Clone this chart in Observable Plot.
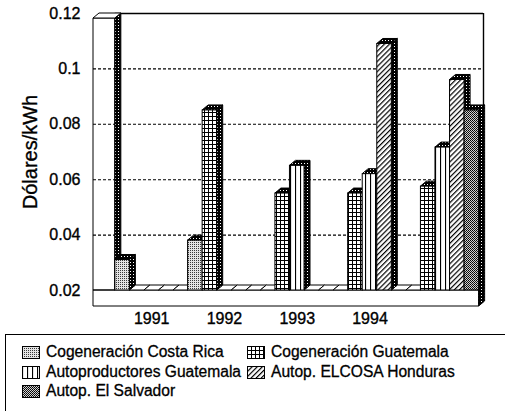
<!DOCTYPE html>
<html><head><meta charset="utf-8">
<script src="https://cdn.jsdelivr.net/npm/d3@7"></script>
<script src="https://cdn.jsdelivr.net/npm/@observablehq/plot@0.6"></script>
<style>
body{margin:0;background:#fff;font-family:"Liberation Sans",Arial,sans-serif;}
#wrap{position:relative;width:505px;height:411px;overflow:hidden;}
#legendBox{position:absolute;left:5px;top:334px;width:520px;height:100px;border-left:1.5px solid #000;border-top:1.5px solid #000;}
.item{position:absolute;font-size:15.6px;line-height:16px;white-space:nowrap;display:flex;align-items:center;color:#000;-webkit-text-stroke:0.3px #000;}
.item svg{margin-right:6px;display:block}
#chart svg text{stroke:#000;stroke-width:0.35px;}
</style></head><body><div id="wrap"><div id="chart"></div><div id="legendBox"></div></div>
<script>
// ---- data ----
const groups = ["1991", "1992", "1993", "1994", "1995"];
const tickLabels = ["1991", "1992", "1993", "1994", ""];
const seriesNames = ["Cogeneración Costa Rica", "Cogeneración Guatemala", "Autoproductores Guatemala", "Autop. ELCOSA Honduras", "Autop. El Salvador"];
const costaRica = [0.031, 0.038, null, null, null];
const cogenGuatemala = [null, 0.085, 0.055, 0.055, 0.0575];
const autoprodGuatemala = [null, null, 0.065, 0.062, 0.0716];
const elcosaHonduras = [null, null, null, 0.109, 0.096];
const elSalvador = [null, null, null, null, 0.085];
const yTicks = [0.02, 0.04, 0.06, 0.08, 0.1, 0.12];
const yLabel = "Dólares/kWh";

const seriesValues = [costaRica, cogenGuatemala, autoprodGuatemala, elcosaHonduras, elSalvador];
const patIds = ["pCR", "pCG", "pAG", "pEL", "pES"];
const nS = seriesNames.length;
const yMin = yTicks[0], yMax = yTicks[yTicks.length - 1];

const bars = [];
groups.forEach((g, gi) => seriesValues.forEach((vals, k) => {
  bars.push({group: g, series: k, slot: gi * nS + k, value: vals[gi]});
}));
const labels = groups.map((g, gi) => ({center: gi * nS + nS / 2, text: tickLabels[gi]}));

// ---- styling ----
const DX = 6, DY = -5, FLOOR = 16;
const xDomain = [-1.5, groups.length * nS + 0.3];

function defsMark() {
  const defs = d3.create("svg:defs");
  const pat = (id, w, h, draw, tr) => {
    const p = defs.append("pattern").attr("id", id).attr("patternUnits", "userSpaceOnUse")
      .attr("width", w).attr("height", h);
    if (tr) p.attr("patternTransform", tr);
    draw(p);
  };
  const px = (p, x, y, c, w = 1, h = 1) => p.append("rect").attr("x", x).attr("y", y).attr("width", w).attr("height", h).attr("fill", c);
  pat("pCR", 2, 2, p => { px(p, 0, 0, "#e4e4e4", 2, 2); px(p, 0, 0, "#3a3a3a"); });
  pat("pCG", 4, 4, p => { px(p, 0, 0, "#fff", 4, 4); px(p, 0, 0, "#000", 4, 1); px(p, 0, 0, "#000", 1, 4); });
  pat("pAG", 5, 5, p => { px(p, 0, 0, "#fff", 5, 5); px(p, 0, 0, "#000", 1.1, 5); });
  pat("pEL", 3.6, 3.6, p => { px(p, 0, 0, "#fff", 3.6, 3.6); px(p, 0, 0, "#000", 1.2, 3.6); }, "rotate(45)");
  pat("pES", 2, 2, p => { px(p, 0, 0, "#d0d0d0", 2, 2); px(p, 0, 0, "#000"); px(p, 1, 1, "#1a1a1a"); });
  pat("pSide", 3, 3, p => { px(p, 0, 0, "#000", 3, 3); px(p, 1, 1, "#fff"); });
  return defs.node();
}

function poly(g, pts, fill) {
  g.append("polygon").attr("points", pts.map(p => p.join(",")).join(" "))
    .attr("fill", fill).attr("stroke", "#000").attr("stroke-width", 1).attr("stroke-linejoin", "round");
}

// floor, wall and 3D side/cap faces, all positioned through Plot's scales
function depthMark(index, scales) {
  const {x, y} = scales;
  const g = d3.create("svg:g");
  const y0 = y(yMin);
  // floor slab
  const fx1 = x(xDomain[0]), fx2 = x(groups.length * nS);
  poly(g, [[fx1, y0], [fx2, y0], [fx2, y0 + FLOOR], [fx1, y0 + FLOOR]], "#fff");
  poly(g, [[fx2, y0], [fx2 + DX, y0 + DY], [fx2 + DX, y0 + FLOOR + DY], [fx2, y0 + FLOOR]], "url(#pSide)");
  // left wall box
  const wx1 = x(xDomain[0]), wx2 = x(0), wt = y(yMax) - DY;
  poly(g, [[wx1, y0], [wx1, wt], [wx2, wt], [wx2, y0]], "none");
  poly(g, [[wx2, wt], [wx2 + DX, wt + DY], [wx2 + DX, y0 + DY], [wx2, y0]], "url(#pSide)");
  poly(g, [[wx1, wt], [wx1 + DX, wt + DY], [wx2 + DX, wt + DY], [wx2, wt]], "#fff");
  // empty slots: thin slab at floor level
  for (const b of bars) if (b.value == null) {
    const x1 = x(b.slot), x2 = x(b.slot + 1);
    poly(g, [[x1, y0], [x1 + DX, y0 + DY], [x2 + DX, y0 + DY], [x2, y0]], "#fff");
  }
  for (const b of bars) if (b.value != null) {
    const x2 = x(b.slot + 1), yt = y(b.value);
    poly(g, [[x2, yt], [x2 + DX, yt + DY], [x2 + DX, y0 + DY], [x2, y0]], "url(#pSide)");
  }
  for (const b of bars) if (b.value != null) {
    const x1 = x(b.slot), x2 = x(b.slot + 1), yt = y(b.value);
    poly(g, [[x1, yt], [x1 + DX, yt + DY], [x2 + DX, yt + DY], [x2, yt]], "url(#pSide)");
  }
  return g.node();
}

const chart = Plot.plot({
  width: 505, height: 330,
  marginLeft: 93, marginRight: 22, marginTop: 13, marginBottom: 40,
  style: {fontFamily: "'Liberation Sans', Arial, sans-serif", fontSize: "16px", color: "#000", background: "#fff"},
  x: {domain: xDomain, axis: null},
  y: {domain: [yMin, yMax], axis: null},
  marks: [
    defsMark,
    Plot.ruleY(yTicks.slice(1, -1), {stroke: "#000", strokeWidth: 1.1, strokeDasharray: "3,2"}),
    Plot.ruleY([yMax], {x1: 0, x2: xDomain[1], stroke: "#000", strokeWidth: 1.4}),
    Plot.ruleX([xDomain[1]], {y1: yMin, y2: yMax, stroke: "#000", strokeWidth: 1.4}),
    depthMark,
    ...seriesNames.map((name, k) => Plot.rect(bars.filter(b => b.series === k && b.value != null), {
      x1: "slot", x2: d => d.slot + 1, y1: yMin, y2: "value",
      fill: `url(#${patIds[k]})`, stroke: "#000", strokeWidth: 1
    })),
    Plot.axisY(yTicks, {tickSize: 0, tickPadding: 13, fontSize: 16, label: null,
      tickFormat: d => String(+d.toFixed(2))}),
    Plot.text(labels, {x: "center", y: yMin, dy: 28, text: "text", fontSize: 16}),
    Plot.text([yLabel], {frameAnchor: "left", textAnchor: "middle", rotate: -90, dx: -63, fontSize: 20})
  ]
});
document.getElementById("chart").appendChild(chart);

// ---- legend ----
const legendPos = [[22, 352], [247, 352], [22, 372], [247, 372], [22, 391]];
const wrap = document.getElementById("wrap");
seriesNames.forEach((name, k) => {
  const div = document.createElement("div");
  div.className = "item";
  div.style.left = legendPos[k][0] + "px";
  div.style.top = (legendPos[k][1] - 8) + "px";
  div.innerHTML = `<svg width="18" height="13"><rect x="0.5" y="0.5" width="17" height="12" fill="url(#${patIds[k]})" stroke="#000"/></svg><span>${name}</span>`;
  wrap.appendChild(div);
});
</script></body></html>
